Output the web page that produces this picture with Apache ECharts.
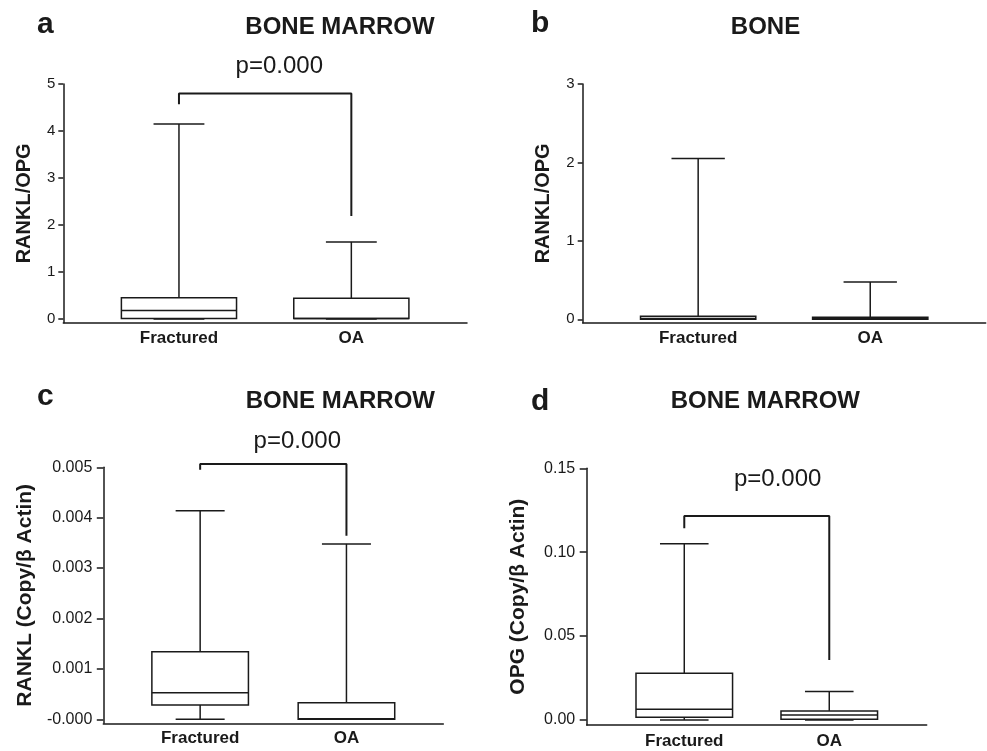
<!DOCTYPE html>
<html>
<head>
<meta charset="utf-8">
<script src="https://cdn.jsdelivr.net/npm/echarts@6/dist/echarts.min.js"></script>
<style>
html,body{margin:0;padding:0;background:#fff;}
#chart{width:987px;height:751px;}
</style>
</head>
<body>
<div id="chart"></div>
<script>
// ---------- data ----------
const categories = ['Fractured', 'OA'];

// panel a: BONE MARROW, RANKL/OPG  [min, Q1, median, Q3, max]
const aFractured = [0, 0.01, 0.18, 0.45, 4.15];
const aOA = [0, 0.01, 0.01, 0.44, 1.64];
const aBracket = [4.57, 4.8, 2.19];          // left leg end, bar level, right leg end
const aTicks = [0, 1, 2, 3, 4, 5];
const aTickLabels = ['0', '1', '2', '3', '4', '5'];

// panel b: BONE, RANKL/OPG
const bFractured = [0, 0.0, 0.01, 0.04, 2.05];
const bOA = [0, 0.0, 0.01, 0.025, 0.475];
const bTicks = [0, 1, 2, 3];
const bTickLabels = ['0', '1', '2', '3'];

// panel c: BONE MARROW, RANKL (Copy/β Actin)
const cFractured = [0, 0.000284, 0.000528, 0.00134, 0.00414];
const cOA = [0, 0.0, 0.00001, 0.00033, 0.00348];
const cBracket = [0.00495, 0.005066, 0.00364];
const cTicks = [0, 0.001, 0.002, 0.003, 0.004, 0.005];
const cTickLabels = ['-0.000', '0.001', '0.002', '0.003', '0.004', '0.005'];

// panel d: BONE MARROW, OPG (Copy/β Actin)
const dFractured = [0, 0.0016, 0.0064, 0.0278, 0.105];
const dOA = [0, 0.0004, 0.003, 0.0054, 0.0169];
const dBracket = [0.1142, 0.1216, 0.0358];
const dTicks = [0, 0.05, 0.10, 0.15];
const dTickLabels = ['0.00', '0.05', '0.10', '0.15'];

// ---------- styling / layout ----------
const FONT = '"Liberation Sans", Arial, Helvetica, sans-serif';
const INK = '#1a1a1a';

const panels = [
  { letter:'a', title:'BONE MARROW', yName:'RANKL/OPG', fr:aFractured, oa:aOA, bracket:aBracket,
    ticks:aTicks, labels:aTickLabels, yMin:-0.079, yMax:5, xMin:-0.671, xMax:1.671,
    grid:{left:63.3, top:84, width:403.7, height:238.7}, tickLen:5, labMargin:8, tickFont:15,
    nameGap:29, nameFont:20, boxW:0.668, capW:0.295, catMargin:7,
    letterPos:[37, 24.6], titlePos:[340, 27.7], pPos:[279.3, 66.2] },
  { letter:'b', title:'BONE', yName:'RANKL/OPG', fr:bFractured, oa:bOA, bracket:null,
    ticks:bTicks, labels:bTickLabels, yMin:-0.043, yMax:3, xMin:-0.671, xMax:1.671,
    grid:{left:582.7, top:84, width:403, height:238.7}, tickLen:5, labMargin:8, tickFont:15,
    nameGap:29, nameFont:20, boxW:0.67, capW:0.31, catMargin:7,
    letterPos:[531, 23.9], titlePos:[765.5, 27.7], pPos:null },
  { letter:'c', title:'BONE MARROW', yName:'RANKL (Copy/β Actin)', fr:cFractured, oa:cOA, bracket:cBracket,
    ticks:cTicks, labels:cTickLabels, yMin:-0.00008, yMax:0.005, xMin:-0.662, xMax:1.662,
    grid:{left:103.3, top:467.3, width:340, height:256}, tickLen:6.5, labMargin:11, tickFont:16,
    nameGap:68, nameFont:21, boxW:0.66, capW:0.335, catMargin:6.5,
    letterPos:[37, 397.1], titlePos:[340.3, 401.7], pPos:[297.3, 441.2] },
  { letter:'d', title:'BONE MARROW', yName:'OPG (Copy/β Actin)', fr:dFractured, oa:dOA, bracket:dBracket,
    ticks:dTicks, labels:dTickLabels, yMin:-0.003, yMax:0.15, xMin:-0.673, xMax:1.672,
    grid:{left:586.7, top:468.3, width:340, height:256.7}, tickLen:7, labMargin:11.5, tickFont:16,
    nameGap:58, nameFont:21, boxW:0.666, capW:0.335, catMargin:8,
    letterPos:[531, 401.6], titlePos:[765.3, 401.3], pPos:[777.7, 479.5] }
];

function boxRenderer(boxW, capW) {
  return function (params, api) {
    const x = api.value(0);
    const mn = api.value(1), q1 = api.value(2), md = api.value(3), q3 = api.value(4), mx = api.value(5);
    const pMin = api.coord([x, mn]);
    const pQ1 = api.coord([x, q1]);
    const pMd = api.coord([x, md]);
    const pQ3 = api.coord([x, q3]);
    const pMax = api.coord([x, mx]);
    const hb = api.size([boxW, 0])[0] / 2;
    const hc = api.size([capW, 0])[0] / 2;
    const cx = pMd[0];
    const ls = { stroke: INK, lineWidth: 1.5 };
    return {
      type: 'group',
      children: [
        { type:'line', shape:{x1:cx, y1:pQ3[1], x2:cx, y2:pMax[1]}, style:ls },
        { type:'line', shape:{x1:cx-hc, y1:pMax[1], x2:cx+hc, y2:pMax[1]}, style:ls },
        { type:'line', shape:{x1:cx, y1:pQ1[1], x2:cx, y2:pMin[1]}, style:ls },
        { type:'line', shape:{x1:cx-hc, y1:pMin[1], x2:cx+hc, y2:pMin[1]}, style:ls },
        { type:'rect', shape:{x:cx-hb, y:pQ3[1], width:2*hb, height:pQ1[1]-pQ3[1]},
          style:{ fill:'#fff', stroke:INK, lineWidth:1.5 } },
        { type:'line', shape:{x1:cx-hb, y1:pMd[1], x2:cx+hb, y2:pMd[1]}, style:ls }
      ]
    };
  };
}

const grids = [], xAxes = [], yAxes = [], series = [], graphics = [];

panels.forEach(function (p, i) {
  grids.push(Object.assign({ containLabel:false }, p.grid));
  xAxes.push({
    gridIndex:i, type:'value', min:p.xMin, max:p.xMax,
    axisLine:{ show:true, onZero:false, lineStyle:{ color:INK, width:1.5 } },
    axisTick:{ show:false },
    splitLine:{ show:false },
    axisLabel:{
      show:true, customValues:[0, 1], margin:p.catMargin,
      formatter:function (v) { return categories[Math.round(v)]; },
      color:INK, fontWeight:'bold', fontSize:17, fontFamily:FONT
    }
  });
  yAxes.push({
    gridIndex:i, type:'value', min:p.yMin, max:p.yMax,
    axisLine:{ show:true, onZero:false, lineStyle:{ color:INK, width:1.5 } },
    axisTick:{ show:true, length:p.tickLen, customValues:p.ticks, lineStyle:{ color:INK, width:1.5 } },
    splitLine:{ show:false },
    axisLabel:{
      show:true, customValues:p.ticks, margin:p.labMargin,
      formatter:function (v) {
        let k = 0, best = Infinity;
        p.ticks.forEach(function (t, j) { const d = Math.abs(t - v); if (d < best) { best = d; k = j; } });
        return p.labels[k];
      },
      color:INK, fontSize:p.tickFont, fontFamily:FONT
    },
    name:p.yName, nameLocation:'middle', nameRotate:90, nameGap:p.nameGap,
    nameTextStyle:{ color:INK, fontWeight:'bold', fontSize:p.nameFont, fontFamily:FONT }
  });
  series.push({
    type:'custom', xAxisIndex:i, yAxisIndex:i, silent:true,
    renderItem:boxRenderer(p.boxW, p.capW),
    encode:{ x:0, y:[1, 2, 3, 4, 5] },
    data:[[0].concat(p.fr), [1].concat(p.oa)]
  });
  if (p.bracket) {
    series.push({
      type:'line', xAxisIndex:i, yAxisIndex:i, silent:true, clip:false,
      symbol:'none', lineStyle:{ color:INK, width:2 },
      data:[[0, p.bracket[0]], [0, p.bracket[1]], [1, p.bracket[1]], [1, p.bracket[2]]]
    });
  }
  graphics.push({ type:'text', x:p.letterPos[0], y:p.letterPos[1],
    style:{ text:p.letter, font:'bold 30px ' + FONT, fill:INK, textAlign:'left', textVerticalAlign:'middle' } });
  graphics.push({ type:'text', x:p.titlePos[0], y:p.titlePos[1],
    style:{ text:p.title, font:'bold 24px ' + FONT, fill:INK, textAlign:'center', textVerticalAlign:'middle' } });
  if (p.pPos) {
    graphics.push({ type:'text', x:p.pPos[0], y:p.pPos[1],
      style:{ text:'p=0.000', font:'24px ' + FONT, fill:INK, textAlign:'center', textVerticalAlign:'middle' } });
  }
});

const chart = echarts.init(document.getElementById('chart'), null, { renderer:'canvas' });
chart.setOption({
  animation:false,
  backgroundColor:'#fff',
  grid:grids, xAxis:xAxes, yAxis:yAxes, series:series,
  graphic:graphics
});
</script>
</body>
</html>
